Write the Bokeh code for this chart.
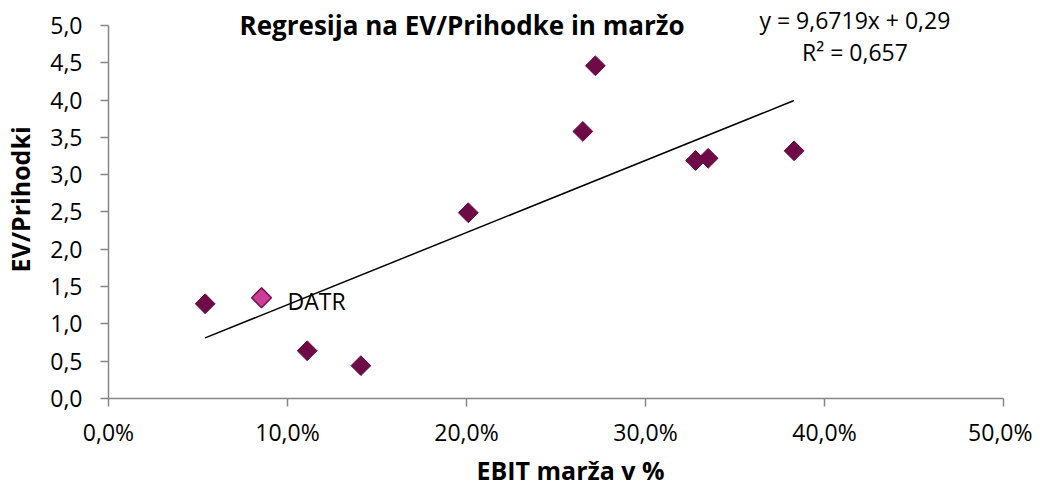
import math
from bokeh.plotting import figure
from bokeh.models import ColumnDataSource, Label, FixedTicker, Range1d
from bokeh.embed import file_html
from bokeh.resources import INLINE

# data (EBIT margin in %, EV/Revenue)
ebit_margin = [5.4, 11.1, 14.1, 20.1, 26.5, 27.2, 32.8, 33.5, 38.3]
ev_revenue = [1.27, 0.64, 0.44, 2.49, 3.58, 4.46, 3.19, 3.22, 3.32]
datr_margin = [8.55]
datr_ev = [1.35]
datr_label = "DATR"

slope = 9.6719  # per unit of margin (fraction)
intercept = 0.29
r2_text = "R² = 0,657"
eq_text = "y = 9,6719x + 0,29"

x_ticks = [0, 10, 20, 30, 40, 50]
x_tick_labels = ["0,0%", "10,0%", "20,0%", "30,0%", "40,0%", "50,0%"]
y_ticks = [0, 0.5, 1, 1.5, 2, 2.5, 3, 3.5, 4, 4.5, 5]
y_tick_labels = ["0,0", "0,5", "1,0", "1,5", "2,0", "2,5", "3,0", "3,5", "4,0", "4,5", "5,0"]

title = "Regresija na EV/Prihodke in maržo"
x_label = "EBIT marža v %"
y_label = "EV/Prihodki"

FONT = "Open Sans"
AXIS_C = "#868686"

p = figure(frame_width=924, frame_height=398, output_backend="svg",
           toolbar_location=None, x_range=Range1d(0, 51.62), y_range=Range1d(0, 5.335),
           min_border_left=108, min_border_right=0, min_border_top=0,
           min_border_bottom=81)
p.outline_line_color = None
p.xgrid.visible = False
p.ygrid.visible = False

for ax in (p.xaxis[0], p.yaxis[0]):
    ax.axis_line_color = AXIS_C
    ax.axis_line_width = 1.5
    ax.major_tick_line_color = AXIS_C
    ax.major_tick_line_width = 1.5
    ax.minor_tick_line_color = None
    ax.major_label_text_font = FONT
    ax.major_label_text_font_size = "23px"
    ax.major_label_text_color = "#000000"
    ax.axis_label_text_font = FONT
    ax.axis_label_text_font_size = "25px"
    ax.axis_label_text_font_style = "bold"
    ax.axis_label_text_color = "#000000"
    ax.major_tick_in = 0
    ax.major_tick_out = 8

p.xaxis.bounds = (0, 50)
p.yaxis.bounds = (0, 5)
p.xaxis.ticker = FixedTicker(ticks=x_ticks)
p.xaxis.major_label_overrides = {t: l for t, l in zip(x_ticks, x_tick_labels)}
p.yaxis.ticker = FixedTicker(ticks=y_ticks)
p.yaxis.major_label_overrides = {t: l for t, l in zip(y_ticks, y_tick_labels)}
p.xaxis.axis_label = x_label
p.yaxis.axis_label = y_label
p.xaxis.major_label_standoff = 9
p.xaxis.axis_label_standoff = 2
p.yaxis.major_label_standoff = 18
p.yaxis.axis_label_standoff = 10

# trend line from the regression equation
all_x = ebit_margin + datr_margin
x0, x1 = min(all_x), max(all_x)
line_x = [x0, x1]
line_y = [slope * v / 100 + intercept for v in line_x]
p.line(line_x, line_y, line_color="black", line_width=1.5)

src = ColumnDataSource(dict(x=ebit_margin, y=ev_revenue))
p.scatter("x", "y", source=src, marker="square", angle=math.pi / 4, size=14,
          fill_color="#6E0A46", line_color="#6E0A46", line_width=1)
p.scatter(datr_margin, datr_ev, marker="square", angle=math.pi / 4, size=14,
          fill_color="#CC3D99", line_color="#7A1050", line_width=1.5)

p.add_layout(Label(x=10.0, y=1.31, text=datr_label, text_font=FONT,
                   text_font_size="23px", text_baseline="middle",
                   text_color="black"))
p.add_layout(Label(x=19.75, y=5.0, text=title, text_font=FONT,
                   text_font_size="26px", text_font_style="bold",
                   text_align="center", text_baseline="middle",
                   text_color="black"))
p.add_layout(Label(x=41.7, y=5.08, text=eq_text, text_font=FONT,
                   text_font_size="23px", text_align="center",
                   text_baseline="middle", text_color="black"))
p.add_layout(Label(x=41.7, y=4.64, text=r2_text, text_font=FONT,
                   text_font_size="23px", text_align="center",
                   text_baseline="middle", text_color="black"))

open("out.html", "w").write(file_html(p, INLINE))
